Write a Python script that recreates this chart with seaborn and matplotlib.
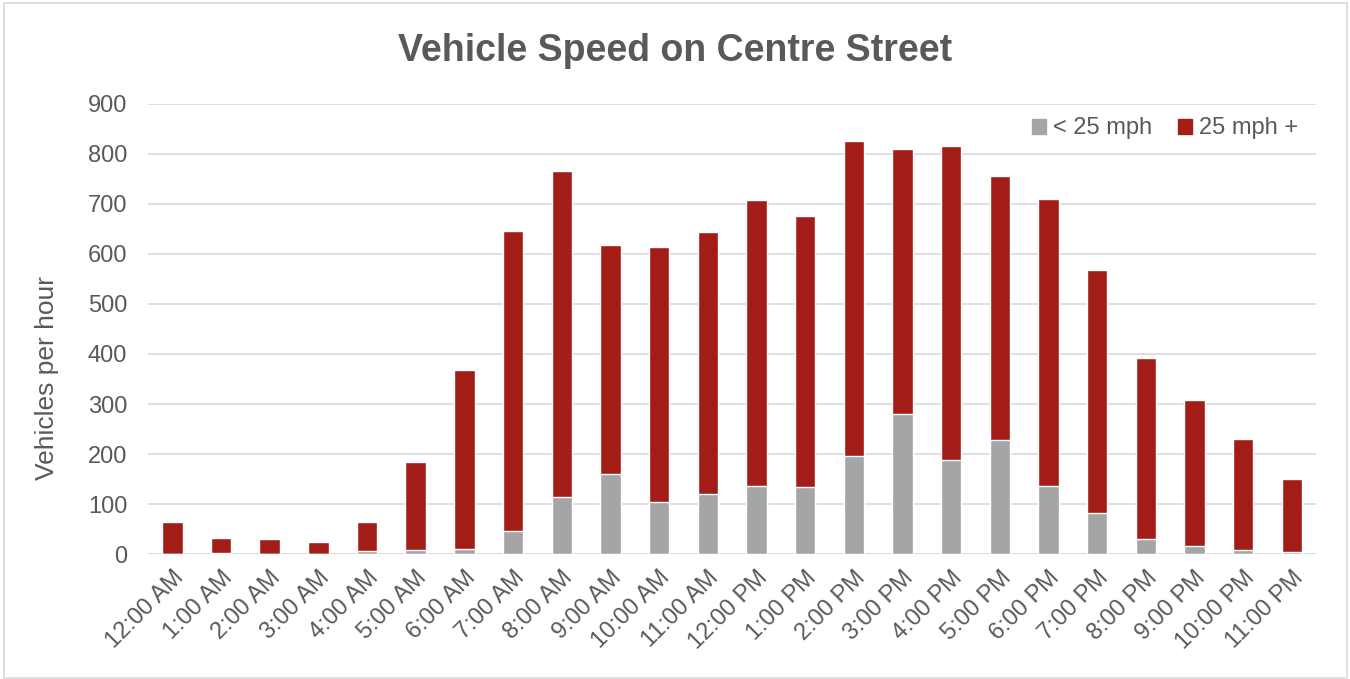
"""
Vehicle speed on Centre Street: hourly counts split by speed band.
"""

import matplotlib
matplotlib.use("Agg")
import matplotlib.pyplot as plt
import seaborn as sns
import pandas as pd
from matplotlib.patches import Rectangle

hours = ["12:00 AM", "1:00 AM", "2:00 AM", "3:00 AM", "4:00 AM", "5:00 AM",
         "6:00 AM", "7:00 AM", "8:00 AM", "9:00 AM", "10:00 AM", "11:00 AM",
         "12:00 PM", "1:00 PM", "2:00 PM", "3:00 PM", "4:00 PM", "5:00 PM",
         "6:00 PM", "7:00 PM", "8:00 PM", "9:00 PM", "10:00 PM", "11:00 PM"]
under_25 = [0, 2, 0, 0, 7, 9, 11, 47, 115, 160, 105, 121,
            137, 135, 197, 281, 189, 229, 137, 82, 30, 16, 9, 4]
over_25 = [65, 31, 30, 25, 57, 175, 357, 599, 650, 458, 508, 523,
           571, 540, 628, 529, 626, 526, 573, 485, 362, 293, 222, 147]

GREY = "#A5A5A5"
RED = "#A21D17"
TEXT = "#595959"

df = pd.DataFrame({"hour": hours, "slow": under_25, "fast": over_25})
df["total"] = df["slow"] + df["fast"]

sns.set_theme(style="white")
plt.rcParams["font.family"] = ["Liberation Sans", "DejaVu Sans"]

fig, ax = plt.subplots(figsize=(13.5, 6.79), dpi=100)
fig.subplots_adjust(left=0.1096, right=0.975, top=0.847, bottom=0.184)

# stacked: draw totals in red, then the slow part over it in grey
sns.barplot(data=df, x="hour", y="total", color=RED, width=0.42,
            saturation=1, ax=ax, zorder=2)
sns.barplot(data=df, x="hour", y="slow", color=GREY, width=0.42,
            saturation=1, ax=ax, zorder=3)

ax.set_ylim(0, 900)
ax.set_yticks(range(0, 901, 100))
ax.set_xlim(-0.5, len(hours) - 0.5)
ax.yaxis.grid(True, color="#D9D9D9", linewidth=1.2, zorder=0)
ax.set_axisbelow(True)
for s in ax.spines.values():
    s.set_visible(False)
ax.axhline(0, color="#D9D9D9", linewidth=1.2, zorder=1)

ax.tick_params(axis="both", length=0, labelsize=17, labelcolor=TEXT)
ax.tick_params(axis="y", pad=15)
ax.tick_params(axis="x", pad=9)
plt.setp(ax.get_xticklabels(), rotation=45, ha="right", rotation_mode="anchor")
ax.set_xlabel("")
ax.set_ylabel("Vehicles per hour", fontsize=19, color=TEXT)
ax.yaxis.set_label_coords(-0.076, 0.39)

fig.suptitle("Vehicle Speed on Centre Street", fontsize=27, fontweight="bold",
             color=TEXT, y=0.952)

handles = [Rectangle((0, 0), 1, 1, color=GREY), Rectangle((0, 0), 1, 1, color=RED)]
ax.legend(handles, ["< 25 mph", "25 mph +"], loc="upper right", ncol=2,
          frameon=False, fontsize=17, labelcolor=TEXT, handlelength=0.6,
          handleheight=0.6, handletextpad=0.3, columnspacing=1.1,
          bbox_to_anchor=(1.003, 1.017))

# light chart border
fig.patches.append(Rectangle((0.003, 0.001), 0.995, 0.995, transform=fig.transFigure,
                             fill=False, edgecolor="#D9D9D9", linewidth=1.2))

fig.savefig("out.png", dpi=100, facecolor="white")
